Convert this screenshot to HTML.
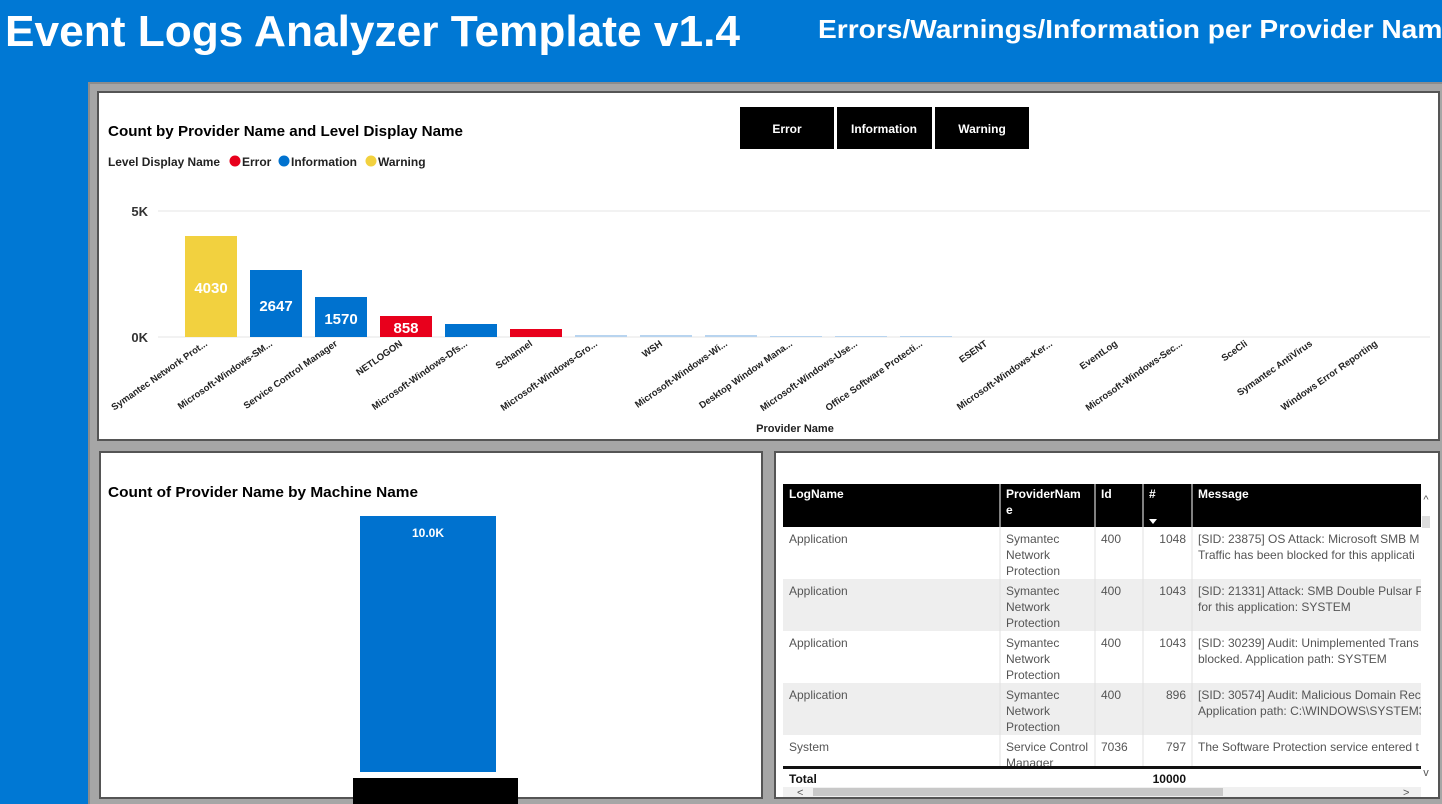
<!DOCTYPE html>
<html><head><meta charset="utf-8"><style>
html,body{margin:0;padding:0;background:#0078d4;width:1442px;height:804px;overflow:hidden}
svg{display:block;font-family:"Liberation Sans",sans-serif}
</style></head><body>
<svg width="1442" height="804" xmlns="http://www.w3.org/2000/svg">
<defs><clipPath id="msg"><rect x="1192" y="527" width="229" height="260"/></clipPath></defs>
<rect width="1442" height="804" fill="#0078d4"/>
<text x="5" y="46" font-size="44" font-weight="bold" fill="#fff" textLength="735" lengthAdjust="spacingAndGlyphs">Event Logs Analyzer Template v1.4</text>
<text x="818" y="38" font-size="26" font-weight="bold" fill="#fff" textLength="640" lengthAdjust="spacingAndGlyphs">Errors/Warnings/Information per Provider Name</text>
<rect x="88" y="82" width="1354" height="722" fill="#8c8c8c"/>
<rect x="90" y="84" width="1352" height="720" fill="#a6a6a6"/>
<rect x="98" y="92" width="1341" height="348" fill="#fff" stroke="#555" stroke-width="2"/>
<text x="108" y="136" font-size="15" font-weight="bold" fill="#000" textLength="355" lengthAdjust="spacingAndGlyphs">Count by Provider Name and Level Display Name</text>
<text x="108" y="166" font-size="12" font-weight="bold" fill="#222" textLength="112" lengthAdjust="spacingAndGlyphs">Level Display Name</text>
<circle cx="235" cy="161" r="5.5" fill="#e8001c"/><text x="242" y="166" font-size="12" font-weight="bold" fill="#222">Error</text>
<circle cx="284" cy="161" r="5.5" fill="#0072cf"/><text x="291" y="166" font-size="12" font-weight="bold" fill="#222">Information</text>
<circle cx="371" cy="161" r="5.5" fill="#f2d13f"/><text x="378" y="166" font-size="12" font-weight="bold" fill="#222">Warning</text>
<rect x="740" y="107" width="94" height="42" fill="#000"/><text x="787" y="133" font-size="12" font-weight="bold" fill="#fff" text-anchor="middle">Error</text>
<rect x="837" y="107" width="95" height="42" fill="#000"/><text x="884" y="133" font-size="12" font-weight="bold" fill="#fff" text-anchor="middle">Information</text>
<rect x="935" y="107" width="94" height="42" fill="#000"/><text x="982" y="133" font-size="12" font-weight="bold" fill="#fff" text-anchor="middle">Warning</text>
<line x1="158" y1="211" x2="1430" y2="211" stroke="#e6e6e6"/>
<line x1="158" y1="337" x2="1430" y2="337" stroke="#e6e6e6"/>
<text x="148" y="216" font-size="13" font-weight="bold" fill="#333" text-anchor="end">5K</text>
<text x="148" y="342" font-size="13" font-weight="bold" fill="#333" text-anchor="end">0K</text>
<rect x="185" y="236" width="52" height="101" fill="#f2d13f"/>
<rect x="250" y="270" width="52" height="67" fill="#0072cf"/>
<rect x="315" y="297" width="52" height="40" fill="#0072cf"/>
<rect x="380" y="316" width="52" height="21" fill="#e8001c"/>
<rect x="445" y="324" width="52" height="13" fill="#0072cf"/>
<rect x="510" y="329" width="52" height="8" fill="#e8001c"/>
<g fill="#b8d4ef"><rect x="575" y="335" width="52" height="2"/><rect x="640" y="335" width="52" height="2"/><rect x="705" y="335" width="52" height="2"/><rect x="770" y="336" width="52" height="1"/><rect x="835" y="336" width="52" height="1"/><rect x="900" y="336" width="52" height="1"/></g>
<g font-size="15" font-weight="bold" fill="#fff" text-anchor="middle">
<text x="211" y="293">4030</text><text x="276" y="311">2647</text><text x="341" y="324">1570</text><text x="406" y="333">858</text></g>
<g font-size="9.5" fill="#222" font-weight="bold" text-anchor="end">
<text transform="translate(208,345) rotate(-35)">Symantec Network Prot...</text>
<text transform="translate(273,345) rotate(-35)">Microsoft-Windows-SM...</text>
<text transform="translate(338,345) rotate(-35)">Service Control Manager</text>
<text transform="translate(403,345) rotate(-35)">NETLOGON</text>
<text transform="translate(468,345) rotate(-35)">Microsoft-Windows-Dfs...</text>
<text transform="translate(533,345) rotate(-35)">Schannel</text>
<text transform="translate(598,345) rotate(-35)">Microsoft-Windows-Gro...</text>
<text transform="translate(663,345) rotate(-35)">WSH</text>
<text transform="translate(728,345) rotate(-35)">Microsoft-Windows-Wi...</text>
<text transform="translate(793,345) rotate(-35)">Desktop Window Mana...</text>
<text transform="translate(858,345) rotate(-35)">Microsoft-Windows-Use...</text>
<text transform="translate(923,345) rotate(-35)">Office Software Protecti...</text>
<text transform="translate(988,345) rotate(-35)">ESENT</text>
<text transform="translate(1053,345) rotate(-35)">Microsoft-Windows-Ker...</text>
<text transform="translate(1118,345) rotate(-35)">EventLog</text>
<text transform="translate(1183,345) rotate(-35)">Microsoft-Windows-Sec...</text>
<text transform="translate(1248,345) rotate(-35)">SceCli</text>
<text transform="translate(1313,345) rotate(-35)">Symantec AntiVirus</text>
<text transform="translate(1378,345) rotate(-35)">Windows Error Reporting</text>
</g>
<text x="795" y="432" font-size="11" font-weight="bold" fill="#222" text-anchor="middle">Provider Name</text>
<rect x="100" y="452" width="662" height="346" fill="#fff" stroke="#555" stroke-width="2"/>
<text x="108" y="497" font-size="15" font-weight="bold" fill="#000" textLength="310" lengthAdjust="spacingAndGlyphs">Count of Provider Name by Machine Name</text>
<rect x="360" y="516" width="136" height="256" fill="#0072cf"/>
<text x="428" y="537" font-size="12" font-weight="bold" fill="#fff" text-anchor="middle">10.0K</text>
<rect x="353" y="778" width="165" height="26" fill="#000"/>
<rect x="775" y="452" width="664" height="346" fill="#fff" stroke="#555" stroke-width="2"/>
<rect x="783" y="484" width="638" height="43" fill="#000"/>
<g stroke="#fff" stroke-width="1"><line x1="1000" y1="484" x2="1000" y2="527"/><line x1="1095" y1="484" x2="1095" y2="527"/><line x1="1143" y1="484" x2="1143" y2="527"/><line x1="1192" y1="484" x2="1192" y2="527"/></g>
<g font-size="12" font-weight="bold" fill="#fff">
<text x="789" y="498">LogName</text><text x="1006" y="498">ProviderNam</text><text x="1006" y="514">e</text><text x="1101" y="498">Id</text><text x="1149" y="498">#</text><text x="1198" y="498">Message</text></g>
<path d="M1149 519 L1157 519 L1153 524 Z" fill="#fff"/>
<rect x="783" y="579" width="638" height="52" fill="#eeeeee"/>
<rect x="783" y="683" width="638" height="52" fill="#eeeeee"/>
<g stroke="#e0e0e0"><line x1="1000" y1="527" x2="1000" y2="787"/><line x1="1095" y1="527" x2="1095" y2="787"/><line x1="1143" y1="527" x2="1143" y2="787"/><line x1="1192" y1="527" x2="1192" y2="787"/></g>
<g font-size="12" fill="#555">
<text x="789" y="543">Application</text><text x="1006" y="543">Symantec</text><text x="1006" y="559">Network</text><text x="1006" y="575">Protection</text><text x="1101" y="543">400</text><text x="1186" y="543" text-anchor="end">1048</text>
<text x="789" y="595">Application</text><text x="1006" y="595">Symantec</text><text x="1006" y="611">Network</text><text x="1006" y="627">Protection</text><text x="1101" y="595">400</text><text x="1186" y="595" text-anchor="end">1043</text>
<text x="789" y="647">Application</text><text x="1006" y="647">Symantec</text><text x="1006" y="663">Network</text><text x="1006" y="679">Protection</text><text x="1101" y="647">400</text><text x="1186" y="647" text-anchor="end">1043</text>
<text x="789" y="699">Application</text><text x="1006" y="699">Symantec</text><text x="1006" y="715">Network</text><text x="1006" y="731">Protection</text><text x="1101" y="699">400</text><text x="1186" y="699" text-anchor="end">896</text>
<text x="789" y="751">System</text><text x="1006" y="751">Service Control</text><text x="1006" y="767">Manager</text><text x="1101" y="751">7036</text><text x="1186" y="751" text-anchor="end">797</text>
<g clip-path="url(#msg)">
<text x="1198" y="543">[SID: 23875] OS Attack: Microsoft SMB M</text><text x="1198" y="559">Traffic has been blocked for this applicati</text>
<text x="1198" y="595">[SID: 21331] Attack: SMB Double Pulsar P</text><text x="1198" y="611">for this application: SYSTEM</text>
<text x="1198" y="647">[SID: 30239] Audit: Unimplemented Trans</text><text x="1198" y="663">blocked. Application path: SYSTEM</text>
<text x="1198" y="699">[SID: 30574] Audit: Malicious Domain Rec</text><text x="1198" y="715">Application path: C:\WINDOWS\SYSTEM3</text>
<text x="1198" y="751">The Software Protection service entered t</text>
</g>
</g>
<rect x="1421" y="484" width="16" height="303" fill="#fff"/>
<rect x="1422" y="516" width="8" height="12" fill="#ddd"/>
<text x="1426" y="503" font-size="11" fill="#555" text-anchor="middle">^</text>
<text x="1426" y="776" font-size="11" fill="#555" text-anchor="middle">v</text>
<rect x="783" y="766" width="638" height="3" fill="#111"/>
<rect x="783" y="769" width="638" height="18" fill="#fff"/>
<text x="789" y="783" font-size="12" font-weight="bold" fill="#111">Total</text>
<text x="1186" y="783" font-size="12" font-weight="bold" fill="#111" text-anchor="end">10000</text>
<rect x="783" y="787" width="638" height="10" fill="#f0f0f0"/>
<rect x="813" y="788" width="410" height="8" fill="#c8c8c8"/>
<text x="797" y="796" font-size="11" fill="#555">&lt;</text>
<text x="1403" y="796" font-size="11" fill="#555">&gt;</text>
</svg>
</body></html>
